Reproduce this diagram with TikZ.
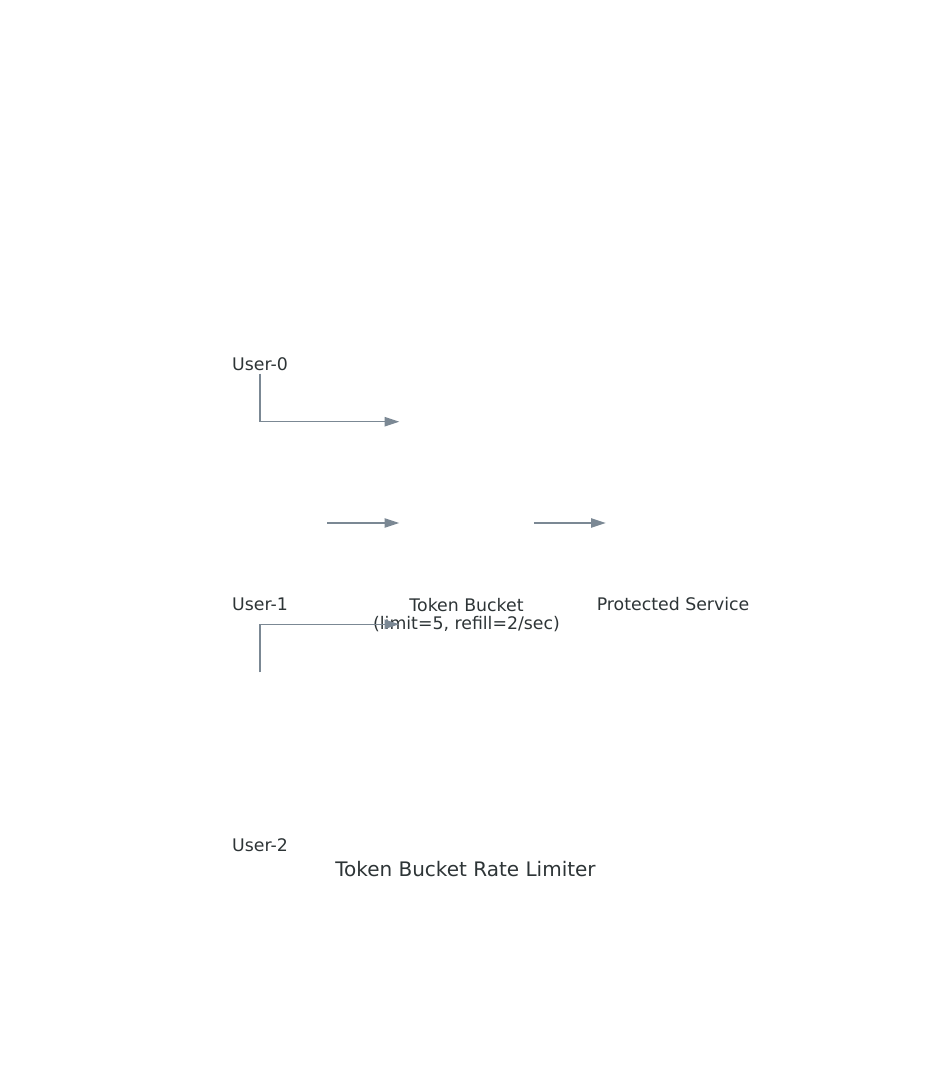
\documentclass[tikz,border=0pt]{standalone}
\usepackage{fontspec}
\setmainfont{DejaVu Sans}
\usepackage{tikz}
\usetikzlibrary{arrows.meta, calc, positioning}
\usepackage{xcolor}
\definecolor{labelgray}{HTML}{2D3436}
\definecolor{edgegray}{HTML}{7B8894}

\begin{document}
\begin{tikzpicture}[x=0.75pt, y=0.75pt,
            icon/.style={rectangle, draw=none, inner sep=0pt,
                minimum width=100.5pt, minimum height=136.5pt},
            bucket/.style={icon, minimum height=151.5pt},
            node label/.style={inner sep=0pt, anchor=base, align=center,
                text=labelgray, font=\fontsize{13}{13.3}\selectfont},
            graph title/.style={node label, font=\fontsize{15}{17}\selectfont},
            flow/.style={draw=edgegray, line width=1pt,
                -{Triangle[length=11pt, width=7pt]}}]
            
            \useasboundingbox (0,0) rectangle (932,1080);
            
            \node[icon] (u1) at (260,557) {};
            \node[icon, above=43.5pt of u1] (u0) {};
            \node[icon, below=43.5pt of u1] (u2) {};
            \node[bucket, right=54pt of u1] (tb) {};
            \node[icon, right=54pt of tb] (ps) {};
            
            \node[node label] (u0l) at ([yshift=2.6pt]u0.south) {User-0};
            \node[node label] (u1l) at ([yshift=2.6pt]u1.south) {User-1};
            \node[node label] (u2l) at ([yshift=2.6pt]u2.south) {User-2};
            \node[node label] (tbl) at ([yshift=-4pt]tb.south) {Token Bucket\\(limit=5, refill=2/sec)};
            \node[node label] (psl) at ([yshift=2.6pt]ps.south) {Protected Service};
            
            \draw[flow] (u0.south) |- (tb.north west);
            \draw[flow] (u1) -- (tb);
            \draw[flow] (u2.north) |- (tb.south west);
            \draw[flow] (tb) -- (ps);
            
            \node[graph title] (title) at (465.5,203.5) {Token Bucket Rate Limiter};
        \end{tikzpicture}
\end{document}
